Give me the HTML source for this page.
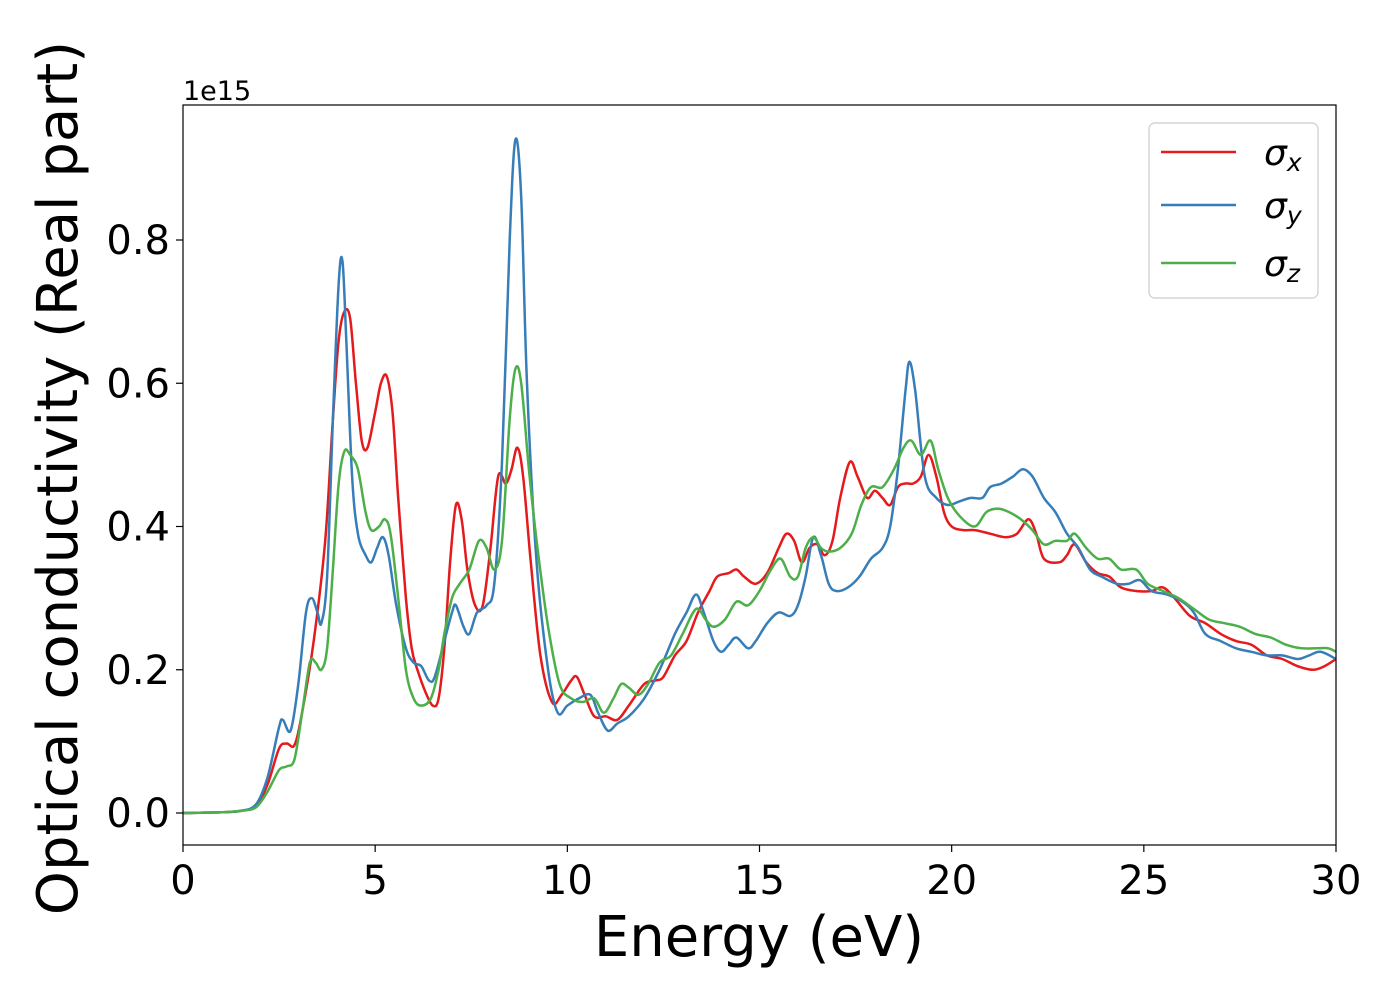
<!DOCTYPE html>
<html><head><meta charset="utf-8"><style>
html,body{margin:0;padding:0;background:#fff;}
svg{display:block;font-family:"DejaVu Sans","Liberation Sans",sans-serif;}
</style></head><body>
<svg id="chart" width="1400" height="1000" viewBox="0 0 1400 1000">
<rect x="0" y="0" width="1400" height="1000" fill="#fff"/>
<g id="series"></g>
<rect x="183" y="105" width="1153" height="740" fill="none" stroke="#000" stroke-width="1.2"/>
<g id="xticks"></g>
<g id="yticks"></g>
<text x="183" y="100" font-size="27">1e15</text>
<text x="759" y="956" font-size="56" text-anchor="middle">Energy (eV)</text>
<text transform="translate(77,478) rotate(-90)" font-size="56" text-anchor="middle">Optical conductivity (Real part)</text>
<g>
<rect x="1149" y="123" width="169" height="175" rx="6" fill="#fff" fill-opacity="0.8" stroke="#ccc" stroke-width="1.2"/>
<line x1="1161" y1="152" x2="1236" y2="152" stroke="#e41a1c" stroke-width="2.5"/>
<line x1="1161" y1="205" x2="1236" y2="205" stroke="#377eb8" stroke-width="2.5"/>
<line x1="1161" y1="263" x2="1236" y2="263" stroke="#4daf4a" stroke-width="2.5"/>
<text x="1264" y="165" font-size="36" font-style="italic">σ<tspan font-size="25" dy="6">x</tspan></text>
<text x="1264" y="218" font-size="36" font-style="italic">σ<tspan font-size="25" dy="6">y</tspan></text>
<text x="1264" y="276" font-size="36" font-style="italic">σ<tspan font-size="25" dy="6">z</tspan></text>
</g>
</svg>
<script>
const xTicks=[0,5,10,15,20,25,30];
const yTicks=[0.0,0.2,0.4,0.6,0.8];
const yTickLabels=["0.0","0.2","0.4","0.6","0.8"];
const redE=[0,1,1.5,1.9,2.2,2.5,2.7,2.9,3.1,3.4,3.7,3.9,4.05,4.2,4.35,4.5,4.65,4.8,5.0,5.15,5.3,5.45,5.6,5.8,5.95,6.1,6.3,6.5,6.65,6.8,6.95,7.1,7.25,7.4,7.6,7.8,8.0,8.2,8.4,8.55,8.7,8.85,9.05,9.3,9.6,9.85,10.1,10.25,10.45,10.7,11.0,11.3,11.6,12.0,12.3,12.5,12.8,13.1,13.4,13.7,13.9,14.2,14.4,14.6,14.9,15.2,15.5,15.7,15.9,16.1,16.3,16.5,16.7,16.9,17.1,17.35,17.55,17.8,18.0,18.2,18.4,18.6,18.8,19.0,19.2,19.4,19.6,19.8,20.0,20.3,20.6,21.0,21.4,21.7,22.0,22.2,22.4,22.8,23.0,23.2,23.5,23.8,24.1,24.4,24.8,25.2,25.5,25.8,26.2,26.6,27.0,27.4,27.8,28.2,28.6,29.0,29.4,29.7,30];
const redV=[0,0.001,0.003,0.01,0.04,0.09,0.097,0.095,0.14,0.24,0.38,0.55,0.66,0.70,0.69,0.60,0.52,0.51,0.56,0.60,0.61,0.56,0.44,0.30,0.23,0.20,0.17,0.15,0.16,0.23,0.35,0.43,0.41,0.34,0.29,0.29,0.37,0.47,0.46,0.48,0.51,0.47,0.35,0.22,0.155,0.165,0.185,0.19,0.165,0.135,0.135,0.13,0.15,0.18,0.185,0.19,0.22,0.24,0.28,0.31,0.33,0.335,0.34,0.33,0.32,0.335,0.37,0.39,0.38,0.35,0.37,0.375,0.36,0.38,0.44,0.49,0.47,0.44,0.45,0.44,0.43,0.455,0.46,0.46,0.47,0.50,0.47,0.42,0.40,0.395,0.395,0.39,0.385,0.39,0.41,0.39,0.355,0.35,0.36,0.375,0.35,0.335,0.33,0.315,0.31,0.31,0.315,0.30,0.275,0.265,0.25,0.24,0.235,0.22,0.215,0.205,0.20,0.205,0.215];
const blueE=[0,1,1.5,1.9,2.2,2.5,2.6,2.8,3.0,3.2,3.35,3.5,3.6,3.75,3.9,4.05,4.15,4.25,4.4,4.55,4.75,4.9,5.05,5.2,5.35,5.55,5.8,6.0,6.2,6.4,6.55,6.8,7.0,7.1,7.3,7.45,7.65,7.9,8.1,8.3,8.5,8.65,8.8,8.95,9.2,9.5,9.75,10.0,10.3,10.6,10.8,11.05,11.3,11.6,12.0,12.4,12.8,13.1,13.35,13.55,13.8,14.0,14.2,14.4,14.7,14.9,15.2,15.5,15.8,16.0,16.2,16.4,16.6,16.8,17.0,17.3,17.6,17.9,18.2,18.4,18.6,18.8,18.9,19.05,19.3,19.6,19.9,20.2,20.5,20.8,21.0,21.3,21.6,21.85,22.1,22.4,22.7,23.0,23.3,23.6,23.9,24.3,24.6,24.9,25.2,25.6,26.0,26.3,26.6,27.0,27.4,27.8,28.2,28.6,29.0,29.3,29.6,30];
const blueV=[0,0.001,0.003,0.012,0.05,0.12,0.13,0.115,0.18,0.28,0.30,0.28,0.265,0.33,0.55,0.74,0.77,0.66,0.47,0.39,0.36,0.35,0.37,0.385,0.36,0.29,0.23,0.21,0.205,0.185,0.19,0.24,0.28,0.29,0.26,0.25,0.28,0.29,0.32,0.49,0.80,0.94,0.86,0.60,0.35,0.20,0.14,0.15,0.16,0.165,0.14,0.115,0.125,0.135,0.16,0.20,0.25,0.28,0.305,0.28,0.24,0.225,0.235,0.245,0.23,0.24,0.265,0.28,0.275,0.29,0.33,0.385,0.36,0.32,0.31,0.315,0.33,0.355,0.37,0.40,0.48,0.59,0.63,0.59,0.47,0.44,0.43,0.435,0.44,0.44,0.455,0.46,0.47,0.48,0.47,0.44,0.42,0.39,0.37,0.34,0.33,0.32,0.32,0.325,0.31,0.305,0.295,0.28,0.25,0.24,0.23,0.225,0.22,0.22,0.215,0.22,0.225,0.215];
const greenE=[0,1,1.5,1.9,2.2,2.5,2.7,2.9,3.1,3.3,3.45,3.6,3.75,3.9,4.05,4.2,4.35,4.55,4.75,4.9,5.1,5.25,5.4,5.6,5.8,6.0,6.2,6.45,6.65,6.8,7.0,7.2,7.45,7.7,7.9,8.1,8.3,8.5,8.65,8.8,9.0,9.2,9.5,9.8,10.1,10.4,10.7,10.95,11.2,11.4,11.6,11.85,12.1,12.4,12.7,13.0,13.35,13.6,13.8,14.1,14.4,14.7,15.0,15.3,15.55,15.8,16.0,16.2,16.4,16.6,16.8,17.1,17.4,17.65,17.9,18.2,18.5,18.75,18.95,19.2,19.45,19.65,19.9,20.2,20.6,20.9,21.2,21.5,21.8,22.1,22.4,22.7,23.0,23.2,23.5,23.8,24.1,24.4,24.8,25.1,25.5,25.9,26.3,26.7,27.1,27.5,27.9,28.3,28.7,29.1,29.5,29.8,30];
const greenV=[0,0.001,0.003,0.008,0.03,0.06,0.065,0.075,0.14,0.21,0.21,0.20,0.23,0.34,0.46,0.505,0.50,0.48,0.42,0.395,0.40,0.41,0.39,0.30,0.20,0.16,0.15,0.16,0.20,0.25,0.30,0.32,0.34,0.38,0.37,0.34,0.38,0.55,0.62,0.60,0.48,0.38,0.26,0.18,0.16,0.155,0.16,0.14,0.16,0.18,0.175,0.165,0.18,0.21,0.22,0.25,0.285,0.27,0.26,0.27,0.295,0.29,0.31,0.34,0.355,0.33,0.33,0.37,0.385,0.37,0.365,0.37,0.39,0.43,0.455,0.455,0.48,0.51,0.52,0.50,0.52,0.48,0.44,0.415,0.40,0.42,0.425,0.42,0.41,0.395,0.375,0.38,0.38,0.39,0.37,0.355,0.355,0.34,0.34,0.32,0.31,0.30,0.285,0.27,0.265,0.26,0.25,0.245,0.235,0.23,0.23,0.23,0.225];

const X0=183,X1=1336,XMIN=0,XMAX=30;
const Y0PIX=813,PXPER=716.25;
function xScale(v){return X0+(v-XMIN)/(XMAX-XMIN)*(X1-X0);}
function yScale(v){return Y0PIX-v*PXPER;}
const NS="http://www.w3.org/2000/svg";
const sg=document.getElementById('series');
function smoothPath(E,V){
  const p=E.map((e,i)=>[xScale(e),yScale(V[i])]);
  let d="M"+p[0][0].toFixed(1)+","+p[0][1].toFixed(1);
  for(let i=0;i<p.length-1;i++){
    const a=p[Math.max(0,i-1)],b=p[i],c=p[i+1],n=p[Math.min(p.length-1,i+2)];
    const c1=[b[0]+(c[0]-a[0])/6,b[1]+(c[1]-a[1])/6];
    const c2=[c[0]-(n[0]-b[0])/6,c[1]-(n[1]-b[1])/6];
    d+=" C"+c1[0].toFixed(1)+","+c1[1].toFixed(1)+" "+c2[0].toFixed(1)+","+c2[1].toFixed(1)+" "+c[0].toFixed(1)+","+c[1].toFixed(1);
  }
  return d;
}
function addSeries(E,V,color,name){
  const path=document.createElementNS(NS,'path');
  path.setAttribute('d',smoothPath(E,V));
  path.setAttribute('fill','none');
  path.setAttribute('stroke',color);
  path.setAttribute('stroke-width','2.5');
  path.setAttribute('stroke-linejoin','round');
  
  
  sg.appendChild(path);
}
addSeries(redE,redV,'#e41a1c','sigma-x-line');
addSeries(blueE,blueV,'#377eb8','sigma-y-line');
addSeries(greenE,greenV,'#4daf4a','sigma-z-line');

const xg=document.getElementById('xticks');
xTicks.forEach(t=>{
  const x=xScale(t);
  const l=document.createElementNS(NS,'line');
  l.setAttribute('x1',x);l.setAttribute('x2',x);l.setAttribute('y1',845);l.setAttribute('y2',852);
  l.setAttribute('stroke','#000');l.setAttribute('stroke-width','1.2');
  
  
  xg.appendChild(l);
  const tx=document.createElementNS(NS,'text');
  tx.setAttribute('x',x);tx.setAttribute('y',894);tx.setAttribute('font-size','40');tx.setAttribute('text-anchor','middle');
  tx.textContent=String(t);
  
  
  xg.appendChild(tx);
});
const yg=document.getElementById('yticks');
yTicks.forEach((t,i)=>{
  const y=yScale(t);
  const l=document.createElementNS(NS,'line');
  l.setAttribute('x1',176);l.setAttribute('x2',183);l.setAttribute('y1',y);l.setAttribute('y2',y);
  l.setAttribute('stroke','#000');l.setAttribute('stroke-width','1.2');
  
  
  yg.appendChild(l);
  const tx=document.createElementNS(NS,'text');
  tx.setAttribute('x',170);tx.setAttribute('y',y+14);tx.setAttribute('font-size','40');tx.setAttribute('text-anchor','end');
  tx.textContent=yTickLabels[i];
  
  
  yg.appendChild(tx);
});
</script>
</body></html>
